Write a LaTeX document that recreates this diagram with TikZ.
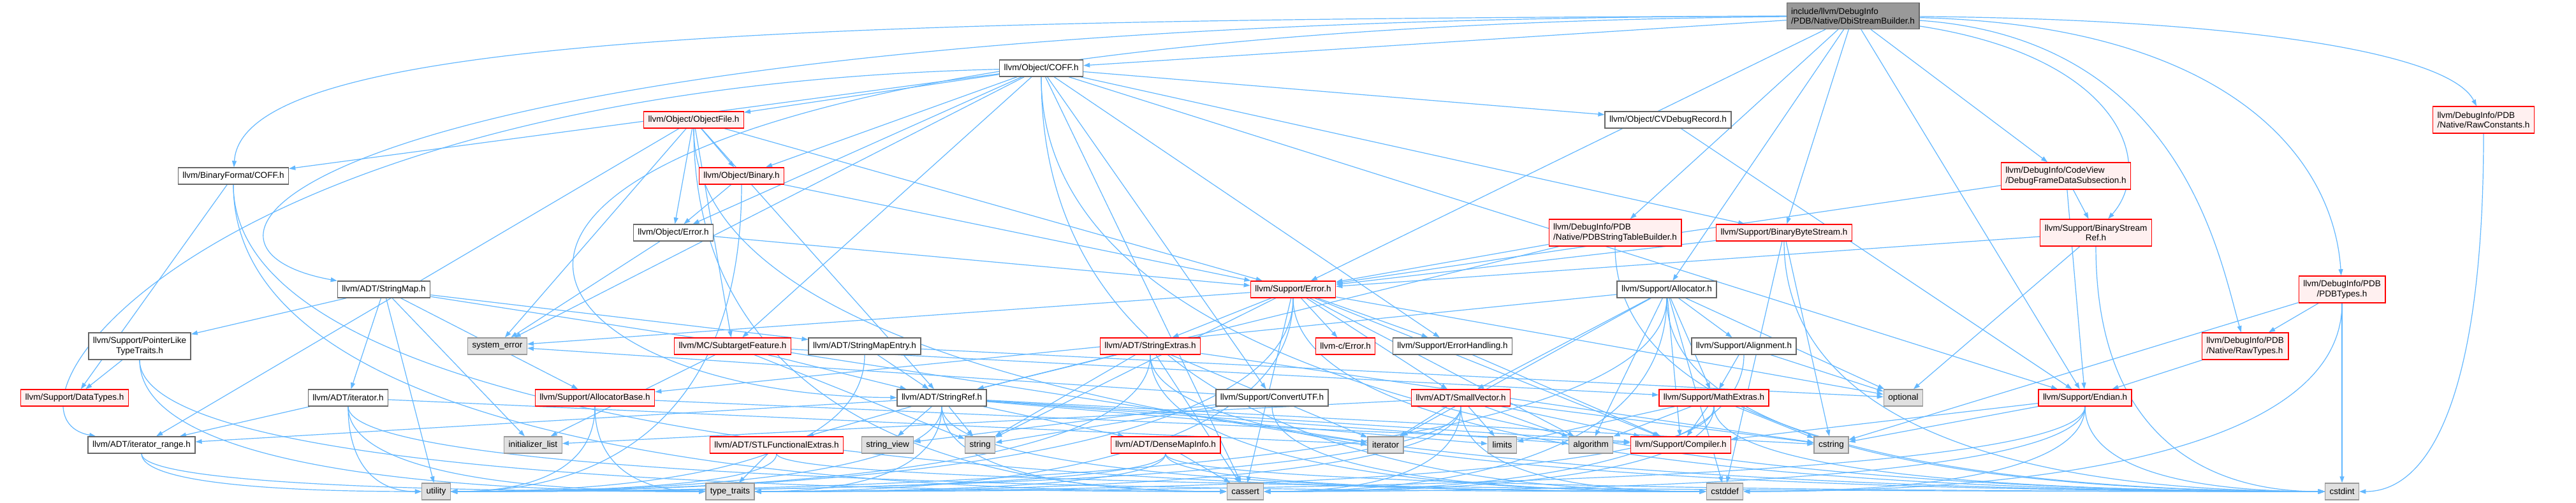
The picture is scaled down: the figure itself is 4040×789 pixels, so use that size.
\documentclass[tikz,border=0pt]{standalone}
\usepackage{fontspec}
\setmainfont{Liberation Sans}
\usetikzlibrary{arrows.meta, backgrounds, calc}
\definecolor{edgeblue}{HTML}{63B8FF}
\definecolor{truncred}{HTML}{FF0000}
\definecolor{truncfill}{HTML}{FFF0F0}
\definecolor{sysfill}{HTML}{E0E0E0}
\definecolor{sysline}{HTML}{999999}
\definecolor{hdrline}{HTML}{666666}
\definecolor{rootfill}{HTML}{999999}

\begin{document}
\begin{tikzpicture}[
  x=1pt, y=-1pt,
  hdr/.style={
    rectangle, draw=hdrline, fill=white, line width=1.4pt,
    minimum height=26pt, inner xsep=7pt, inner ysep=3pt,
    font=\fontsize{13.5}{15.5}\selectfont
  },
  trunc/.style={hdr, draw=truncred, fill=truncfill},
  sys/.style={hdr, draw=sysline, fill=sysfill},
  rootbox/.style={hdr, fill=rootfill, align=left, minimum height=41pt},
  twoline/.style={minimum height=42pt},
  arrow/.style={-{Stealth[length=10pt,width=7pt,inset=0pt]},
    edgeblue, line width=1.2pt}
]
\useasboundingbox (0,0) rectangle (4040,789);

\node[rootbox] (root) at (2906,25)
  {include/llvm/DebugInfo\\/PDB/Native/DbiStreamBuilder.h};

\node[hdr] (ocoff) at (1633,107) {llvm/Object/COFF.h};
\node[hdr] (bfcoff) at (366,276) {llvm/BinaryFormat/COFF.h};
\node[trunc] (objfile) at (1088,188) {llvm/Object/ObjectFile.h};
\node[trunc] (objbin) at (1163,276) {llvm/Object/Binary.h};
\node[hdr] (objerr) at (1056,365) {llvm/Object/Error.h};
\node[hdr] (cvdbg) at (2616,188) {llvm/Object/CVDebugRecord.h};
\node[trunc, twoline, align=left] (pdbstb) at (2533,365)
  {llvm/DebugInfo/PDB\\/Native/PDBStringTableBuilder.h};
\node[trunc] (bbs) at (2798,365) {llvm/Support/BinaryByteStream.h};
\node[trunc, twoline, align=left] (dfds) at (3240,276)
  {llvm/DebugInfo/CodeView\\/DebugFrameDataSubsection.h};
\node[trunc, twoline, align=center] (bsref) at (3287,365)
  {llvm/Support/BinaryStream\\Ref.h};
\node[trunc, twoline, align=left] (rawconst) at (3895,188)
  {llvm/DebugInfo/PDB\\/Native/RawConstants.h};

\node[hdr] (strmap) at (602,454) {llvm/ADT/StringMap.h};
\node[trunc] (supperr) at (2028,454) {llvm/Support/Error.h};
\node[hdr] (alloc) at (2614,454) {llvm/Support/Allocator.h};
\node[trunc, twoline, align=center] (pdbtypes) at (3673,454)
  {llvm/DebugInfo/PDB\\/PDBTypes.h};

\node[hdr, twoline, align=center] (ptrlike) at (219,543)
  {llvm/Support/PointerLike\\TypeTraits.h};
\node[sys] (syserr) at (780,543) {system\_error};
\node[trunc] (subtgt) at (1149,543) {llvm/MC/SubtargetFeature.h};
\node[hdr] (smentry) at (1356,543) {llvm/ADT/StringMapEntry.h};
\node[trunc] (strext) at (1804,543) {llvm/ADT/StringExtras.h};
\node[trunc] (cerr) at (2110,543) {llvm-c/Error.h};
\node[hdr] (errh) at (2278,543) {llvm/Support/ErrorHandling.h};
\node[hdr] (align) at (2735,543) {llvm/Support/Alignment.h};
\node[trunc, twoline, align=left] (rawtypes) at (3521,543)
  {llvm/DebugInfo/PDB\\/Native/RawTypes.h};

\node[trunc] (datatypes) at (117,624) {llvm/Support/DataTypes.h};
\node[hdr] (iter) at (546,624) {llvm/ADT/iterator.h};
\node[trunc] (allocbase) at (933,624) {llvm/Support/AllocatorBase.h};
\node[hdr] (strref) at (1477,624) {llvm/ADT/StringRef.h};
\node[hdr] (cutf) at (1995,624) {llvm/Support/ConvertUTF.h};
\node[trunc] (smallvec) at (2291,624) {llvm/ADT/SmallVector.h};
\node[trunc] (mathext) at (2688,624) {llvm/Support/MathExtras.h};
\node[sys] (optional) at (2985,624) {optional};
\node[trunc] (endian) at (3270,624) {llvm/Support/Endian.h};

\node[hdr] (iterrange) at (222,698) {llvm/ADT/iterator\_range.h};
\node[sys] (initlist) at (836,698) {initializer\_list};
\node[trunc] (stlfunc) at (1218,698) {llvm/ADT/STLFunctionalExtras.h};
\node[sys] (strview) at (1392,698) {string\_view};
\node[sys] (string) at (1537,698) {string};
\node[trunc] (densemap) at (1828,698) {llvm/ADT/DenseMapInfo.h};
\node[sys] (iterator) at (2173,698) {iterator};
\node[sys] (limits) at (2356,698) {limits};
\node[sys] (algorithm) at (2495,698) {algorithm};
\node[trunc] (compiler) at (2636,698) {llvm/Support/Compiler.h};
\node[sys] (cstring) at (2872,698) {cstring};

\node[sys] (utility) at (684,771) {utility};
\node[sys] (typetraits) at (1145,771) {type\_traits};
\node[sys] (cassert) at (1953,771) {cassert};
\node[sys] (cstddef) at (2705,771) {cstddef};
\node[sys] (cstdint) at (3673,771) {cstdint};

\begin{scope}[on background layer]
\fill[white] (0,0) rectangle (4040,789);

\foreach \from/\to/\ca/\cb in {
    root/bfcoff/{(1200,30)}/{(380,60)},
    root/strmap/{(500,30)}/{(200,380)},
    root/strref/{(400,50)}/{(700,620)},
    ocoff/iterrange/{(300,140)}/{(-30,650)},
    root/bsref/{(3330,90)}/{(3380,260)},
    root/rawtypes/{(3420,60)}/{(3480,400)},
    root/pdbtypes/{(3500,40)}/{(3660,250)},
    root/rawconst/{(3500,30)}/{(3840,80)}}
  \draw[arrow] (\from) .. controls \ca and \cb .. (\to);

\foreach \from/\to in {
    root/ocoff, root/supperr, root/alloc, root/dfds, root/pdbstb, root/bbs,
    root/endian,
    ocoff/bfcoff, ocoff/subtgt, ocoff/objbin, ocoff/cvdbg, ocoff/objerr,
    ocoff/objfile, ocoff/bbs, ocoff/cutf, ocoff/endian, ocoff/errh,
    ocoff/cassert, ocoff/syserr,
    bfcoff/datatypes,
    objfile/iterrange, objfile/objbin, objfile/objerr, objfile/supperr,
    objfile/strref, objfile/subtgt, objfile/syserr,
    objbin/objerr, objbin/supperr,
    objerr/supperr, objerr/syserr,
    cvdbg/endian,
    pdbstb/strref, pdbstb/supperr,
    bbs/supperr, bbs/cstddef, bbs/cstring,
    dfds/bsref, dfds/supperr, dfds/endian,
    bsref/supperr, bsref/optional,
    strmap/smentry, strmap/iter, strmap/allocbase, strmap/ptrlike,
    strmap/initlist, strmap/iterator, strmap/utility,
    ptrlike/datatypes,
    iter/iterrange, iter/iterator,
    allocbase/compiler,
    smentry/strref, smentry/optional,
    subtgt/strref, subtgt/mathext, subtgt/initlist, subtgt/string,
    strref/densemap, strref/stlfunc, strref/iterrange, strref/compiler,
    strref/algorithm, strref/cstring, strref/limits, strref/string,
    strref/strview,
    stlfunc/typetraits,
    densemap/cassert,
    supperr/cerr, supperr/errh, supperr/smallvec, supperr/strext,
    supperr/compiler, supperr/algorithm, supperr/cassert,
    supperr/optional, supperr/string, supperr/syserr,
    strext/strref, strext/cassert, strext/cstring, strext/iterator,
    strext/string,
    errh/compiler,
    alloc/smallvec, alloc/align, alloc/allocbase, alloc/compiler,
    alloc/mathext, alloc/algorithm, alloc/cstddef, alloc/iterator,
    alloc/optional,
    align/mathext, align/optional,
    mathext/compiler, mathext/algorithm, mathext/cstring, mathext/limits,
    smallvec/compiler, smallvec/algorithm, smallvec/cstring,
    smallvec/initlist, smallvec/iterator, smallvec/limits,
    cutf/string, cutf/strview, cutf/syserr,
    endian/compiler, endian/cstring,
    pdbtypes/rawtypes, pdbtypes/cstdint, pdbtypes/cstring,
    rawtypes/endian}
  \draw[arrow] (\from) -- (\to);

\foreach \from/\to in {
    objbin/utility, allocbase/utility, smentry/utility, strref/utility,
    stlfunc/utility, densemap/utility, supperr/utility, strext/utility,
    alloc/utility, smallvec/utility,
    strref/typetraits, densemap/typetraits, supperr/typetraits,
    mathext/typetraits, smallvec/typetraits, endian/typetraits,
    alloc/cassert, align/cassert, mathext/cassert, smallvec/cassert,
    endian/cassert,
    endian/cstddef, pdbtypes/cstddef,
    rawconst/cstdint}
  \draw[arrow] (\from.south)
    .. controls ($(\from.south)!0.7!(\from.south |- \to.east)$)
    and ($(\to.east)!0.6!(\from.south |- \to.east)$) .. (\to.east);

\foreach \from/\to in {
    iter/utility, iterrange/utility,
    ptrlike/typetraits, iter/typetraits, iterrange/typetraits,
    allocbase/typetraits,
    bfcoff/cassert, objfile/cassert, ptrlike/cassert, strref/cassert,
    ocoff/cstddef, bfcoff/cstddef, iter/cstddef, strref/cstddef,
    densemap/cstddef, strext/cstddef, smallvec/cstddef, cutf/cstddef,
    ocoff/cstdint, objfile/cstdint, pdbstb/cstdint, bbs/cstdint,
    stlfunc/cstdint, densemap/cstdint, supperr/cstdint, strext/cstdint,
    alloc/cstdint, mathext/cstdint, endian/cstdint, bsref/cstdint}
  \draw[arrow] (\from.south)
    .. controls ($(\from.south)!0.7!(\from.south |- \to.west)$)
    and ($(\to.west)!0.6!(\from.south |- \to.west)$) .. (\to.west);
\end{scope}
\end{tikzpicture}
\end{document}
